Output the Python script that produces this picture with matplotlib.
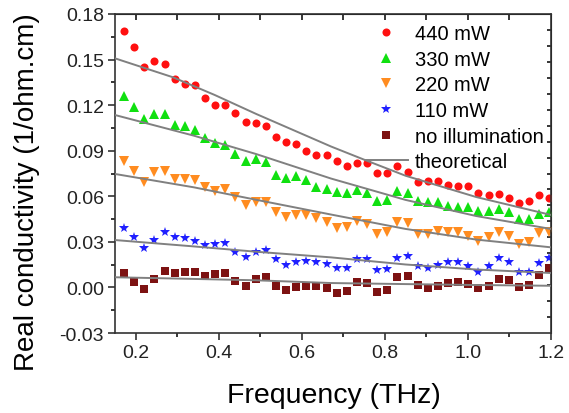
import matplotlib
matplotlib.use('Agg')
import matplotlib.pyplot as plt
import numpy as np

plt.rcParams['font.family'] = ['Liberation Sans', 'DejaVu Sans']

# measured frequencies (THz)
freq = [0.172, 0.196, 0.221, 0.245, 0.270, 0.294, 0.318, 0.343, 0.367, 0.391,
        0.416, 0.440, 0.465, 0.489, 0.513, 0.538, 0.562, 0.587, 0.611, 0.635,
        0.660, 0.684, 0.708, 0.733, 0.757, 0.782, 0.806, 0.830, 0.855, 0.879,
        0.904, 0.928, 0.952, 0.977, 1.001, 1.025, 1.050, 1.074, 1.099, 1.123,
        1.147, 1.172, 1.196]

sig_440 = [0.169, 0.158, 0.145, 0.149, 0.147, 0.137, 0.134, 0.133, 0.125, 0.120,
           0.120, 0.115, 0.109, 0.108, 0.106, 0.099, 0.0955, 0.0946, 0.0898, 0.087,
           0.087, 0.0834, 0.080, 0.0819, 0.0819, 0.0753, 0.0753, 0.080, 0.0762, 0.0696,
           0.0703, 0.0703, 0.0676, 0.067, 0.0666, 0.0622, 0.0608, 0.0617, 0.0591, 0.0556,
           0.0567, 0.0610, 0.0591]
sig_330 = [0.1258, 0.1186, 0.1109, 0.114, 0.114, 0.1071, 0.1061, 0.1038, 0.0982, 0.0949,
           0.0938, 0.0878, 0.083, 0.0845, 0.0824, 0.0742, 0.072, 0.0736, 0.071, 0.0663,
           0.0648, 0.063, 0.0622, 0.0643, 0.0622, 0.0567, 0.0578, 0.0633, 0.0622, 0.0567,
           0.056, 0.0564, 0.0538, 0.0527, 0.0527, 0.0505, 0.0503, 0.0516, 0.0495, 0.045,
           0.045, 0.0483, 0.0499]
sig_220 = [0.083, 0.0768, 0.0696, 0.0757, 0.0766, 0.0714, 0.0714, 0.0709, 0.0659, 0.0637,
           0.0648, 0.0593, 0.0543, 0.0564, 0.056, 0.0498, 0.0462, 0.0477, 0.0477, 0.0455,
           0.0429, 0.0389, 0.0396, 0.0439, 0.0418, 0.0352, 0.0363, 0.0433, 0.0424, 0.0352,
           0.0352, 0.0373, 0.0367, 0.0363, 0.0337, 0.0308, 0.033, 0.0363, 0.0337, 0.0286,
           0.0297, 0.0358, 0.0367]
sig_110 = [0.0391, 0.0334, 0.0258, 0.0314, 0.0363, 0.0334, 0.0323, 0.0308, 0.0279, 0.0284,
           0.029, 0.0235, 0.0198, 0.0235, 0.0246, 0.0187, 0.015, 0.0165, 0.0174, 0.0165,
           0.0154, 0.0126, 0.0126, 0.0187, 0.0187, 0.0117, 0.0121, 0.0192, 0.0205, 0.0143,
           0.0126, 0.0148, 0.0165, 0.0165, 0.0143, 0.0103, 0.0143, 0.0192, 0.0165, 0.010,
           0.010, 0.0161, 0.0192]
sig_dark = [0.0093, 0.0034, -0.001, 0.0055, 0.0106, 0.0093, 0.0103, 0.010, 0.0077, 0.0086,
            0.0095, 0.0044, 0.0011, 0.0055, 0.0067, 0.0007, -0.0017, 0.0005, 0.0011, 0.0007,
            -0.0004, -0.0037, -0.0022, 0.0038, 0.0029, -0.0032, -0.0015, 0.0067, 0.0077, 0.0016,
            -0.0004, 0.0011, 0.0027, 0.0038, 0.002, -0.0002, 0.0011, 0.0055, 0.0049, 0.0001,
            0.0016, 0.0084, 0.0126]

fit_f_440 = [0.15, 0.29, 0.39, 0.49, 0.67, 0.75, 0.85, 1.02, 1.2]
fit_440 = [0.1508, 0.1383, 0.1267, 0.1142, 0.0928, 0.0841, 0.0735, 0.0595, 0.0477]
fit_f = [0.15, 0.34, 0.49, 0.67, 0.85, 1.02, 1.2]
fit_330 = [0.1135, 0.0999, 0.0878, 0.0717, 0.0576, 0.047, 0.0385]
fit_220 = [0.0747, 0.0659, 0.0577, 0.048, 0.0385, 0.0315, 0.0264]
fit_110 = [0.0312, 0.027, 0.0235, 0.0198, 0.0151, 0.0118, 0.0095]
fit_dark = [0.0067, 0.0056, 0.0047, 0.0029, 0.0022, 0.0016, 0.0011]

fig = plt.figure(figsize=(5.69, 4.14), dpi=100)
ax = fig.add_axes([0.2021, 0.1932, 0.7663, 0.7706])

line_kw = dict(color='#808080', lw=1.4, zorder=3)
ax.plot(fit_f_440, fit_440, **line_kw)
ax.plot(fit_f, fit_330, **line_kw)
ax.plot(fit_f, fit_220, **line_kw)
ax.plot(fit_f, fit_110, **line_kw)
ax.plot(fit_f, fit_dark, label='theoretical', **line_kw)

ax.plot(freq, sig_440, 'o', color='#ff1010', ms=5.8, mew=0, label='440 mW', zorder=2)
ax.plot(freq, sig_330, '^', color='#10e010', ms=6.5, mew=0, label='330 mW', zorder=2)
ax.plot(freq, sig_220, 'v', color='#ff8c20', ms=6.5, mew=0, label='220 mW', zorder=2)
ax.plot(freq, sig_110, '*', color='#2020ff', ms=7.5, mew=0, label='110 mW', zorder=2)
ax.plot(freq, sig_dark, 's', color='#7d1212', ms=5.2, mew=0, label='no illumination', zorder=2)

ax.set_xlim(0.15, 1.2)
ax.set_ylim(-0.03, 0.18)
ax.set_xticks([0.2, 0.4, 0.6, 0.8, 1.0, 1.2])
ax.set_xticks([0.3, 0.5, 0.7, 0.9, 1.1], minor=True)
ax.set_yticks([-0.03, 0.0, 0.03, 0.06, 0.09, 0.12, 0.15, 0.18])
ax.set_yticks([-0.015, 0.015, 0.045, 0.075, 0.105, 0.135, 0.165], minor=True)
ax.set_xticklabels(['0.2', '0.4', '0.6', '0.8', '1.0', '1.2'])
ax.set_yticklabels(['-0.03', '0.00', '0.03', '0.06', '0.09', '0.12', '0.15', '0.18'])
ax.tick_params(which='major', direction='out', length=5, width=1.1, labelsize=14,
               colors='#222222', pad=3)
ax.tick_params(which='minor', direction='out', length=3, width=1.1)

for s in ax.spines.values():
    s.set_linewidth(1.2)
    s.set_color('#333333')

top = ax.secondary_xaxis('top')
top.set_xticks([0.2, 0.3, 0.4, 0.5, 0.6, 0.7, 0.8, 0.9, 1.0, 1.1])
top.tick_params(direction='in', length=4, width=1.1, labeltop=False)
right = ax.secondary_yaxis('right')
right.set_yticks(np.linspace(-0.03, 0.18, 21)[1:-1])
right.tick_params(direction='in', length=3, width=1.1, labelright=False)

ax.set_xlabel('Frequency (THz)', fontsize=20.5)
ax.set_ylabel('Real conductivity (1/ohm.cm)', fontsize=20)
ax.xaxis.set_label_coords(0.502, -0.155)
ax.yaxis.set_label_coords(-0.172, 0.445)

h, l = ax.get_legend_handles_labels()
order = [1, 2, 3, 4, 5, 0]
ax.legend([h[i] for i in order], [l[i] for i in order], loc='upper left',
          bbox_to_anchor=(0.573, 0.968), frameon=False, fontsize=14.5,
          numpoints=1, handlelength=2.15, handletextpad=0.35, labelspacing=0.33,
          borderpad=0, borderaxespad=0)

fig.savefig('out.png', dpi=100)
